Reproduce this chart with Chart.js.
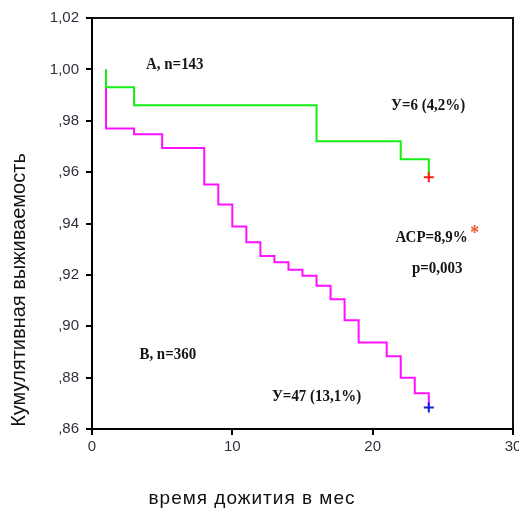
<!DOCTYPE html>
<html>
<head>
<meta charset="utf-8">
<script src="https://cdn.jsdelivr.net/npm/chart.js@4.4.1/dist/chart.umd.min.js"></script>
<style>
    html, body { margin: 0; padding: 0; background: #fff; overflow: hidden; }
    #chart { position: absolute; left: 0; top: 0; }
</style>
</head>
<body>
<canvas id="chart" width="530" height="508"></canvas>
<script>
// group A (green), n=143
const timeA = [1, 1, 3, 16, 22, 24];
const survA = [1.000, 0.993, 0.986, 0.972, 0.965, 0.958];
// group B (magenta), n=360
const timeB = [1, 1, 3, 5, 8, 9, 10, 11, 12, 13, 14, 15, 16, 17, 18, 19, 21, 22, 23, 24];
const survB = [1.000, 0.977, 0.9747, 0.9694, 0.9552, 0.9474, 0.9388, 0.9327, 0.9273, 0.9249,
    0.922, 0.9197, 0.9158, 0.9105, 0.9023, 0.8937, 0.8883, 0.880, 0.8739, 0.8684];
// censor marks at the end of follow-up
const censorA = [{x: 24, y: 0.958}];
const censorB = [{x: 24, y: 0.8684}];

const xTicks = [0, 10, 20, 30];
const yTicks = [0.86, 0.88, 0.90, 0.92, 0.94, 0.96, 0.98, 1.00, 1.02];

const noteText = ['А, n=143', 'У=6 (4,2%)', 'АСР=8,9%', 'p=0,003', 'В, n=360', 'У=47 (13,1%)'];
const noteX = [5.9, 23.95, 24.2, 24.6, 5.4, 16.0];
const noteY = [1.002, 0.9857, 0.9344, 0.9225, 0.889, 0.8727];

const yTitle = 'Кумулятивная выживаемость';
const xTitle = 'время дожития в мес';

const toPoints = (xs, ys) => xs.map((x, i) => ({x: x, y: ys[i]}));

function fmtY(v) {
    let s = v.toFixed(2).replace('.', ',');
    return v < 1 ? s.slice(1) : s;
}

const extras = {
    id: 'extras',
    afterDraw(chart) {
        const c = chart.ctx;
        const a = chart.chartArea;
        const sx = chart.scales.x, sy = chart.scales.y;
        c.save();
        // frame top and right
        c.strokeStyle = '#111';
        c.lineWidth = 2;
        c.beginPath();
        c.moveTo(a.left, a.top);
        c.lineTo(a.right, a.top);
        c.lineTo(a.right, a.bottom);
        c.stroke();

        // notes
        c.fillStyle = '#151515';
        c.font = 'bold 17px "Liberation Serif"';
        c.textAlign = 'center';
        c.textBaseline = 'middle';
        noteText.forEach((t, i) => {
            const px = sx.getPixelForValue(noteX[i]);
            const py = sy.getPixelForValue(noteY[i]);
            c.save();
            c.translate(px, py);
            c.scale(0.88, 1);
            c.fillText(t, 0, 0);
            if (t.startsWith('АСР')) {
                const w = c.measureText(t).width;
                c.fillStyle = '#f4532b';
                c.font = 'bold 20px "Liberation Serif"';
                c.textAlign = 'left';
                c.fillText('*', w / 2 + 3, -4);
            }
            c.restore();
        });

        // axis titles
        c.fillStyle = '#111';
        c.font = '20px "Liberation Sans"';
        c.save();
        c.translate(19, 290);
        c.rotate(-Math.PI / 2);
        c.fillText(yTitle, 0, 0);
        c.restore();
        c.font = '19px "Liberation Sans"';
        c.letterSpacing = '1px';
        c.fillText(xTitle, 252, 499);
        c.restore();
    }
};

const ctx = document.getElementById('chart');
new Chart(ctx, {
    type: 'line',
    data: {
        datasets: [
            {
                data: censorA, showLine: false, pointStyle: 'cross', pointRadius: 5,
                borderColor: '#ff1a1a', borderWidth: 2
            },
            {
                data: censorB, showLine: false, pointStyle: 'cross', pointRadius: 5,
                borderColor: '#1a1ae0', borderWidth: 2
            },
            {
                data: toPoints(timeA, survA), stepped: 'before', borderColor: '#14ee14',
                borderWidth: 2, pointRadius: 0, fill: false
            },
            {
                data: toPoints(timeB, survB), stepped: 'before', borderColor: '#ff10ff',
                borderWidth: 2, pointRadius: 0, fill: false
            }
        ]
    },
    options: {
        responsive: false,
        animation: false,
        events: [],
        layout: {padding: {top: 18, right: 17, left: 0, bottom: 0}},
        plugins: {legend: {display: false}, tooltip: {enabled: false}},
        scales: {
            x: {
                type: 'linear', min: 0, max: 30,
                afterBuildTicks: s => { s.ticks = xTicks.map(v => ({value: v})); },
                afterFit: s => { s.height = 79; },
                ticks: {
                    font: {family: 'Liberation Sans', size: 15}, color: '#30303c', padding: 3,
                    maxRotation: 0
                },
                grid: {drawOnChartArea: false, tickLength: 6, color: '#000', lineWidth: 2},
                border: {color: '#000', width: 2}
            },
            y: {
                type: 'linear', min: 0.86, max: 1.02,
                afterBuildTicks: s => { s.ticks = yTicks.map(v => ({value: v})); },
                afterFit: s => { s.width = 92; },
                ticks: {
                    font: {family: 'Liberation Sans', size: 15}, color: '#30303c', padding: 7,
                    callback: v => fmtY(v)
                },
                grid: {drawOnChartArea: false, tickLength: 6, color: '#000', lineWidth: 2},
                border: {color: '#000', width: 2}
            }
        }
    },
    plugins: [extras]
});
</script>
</body>
</html>
